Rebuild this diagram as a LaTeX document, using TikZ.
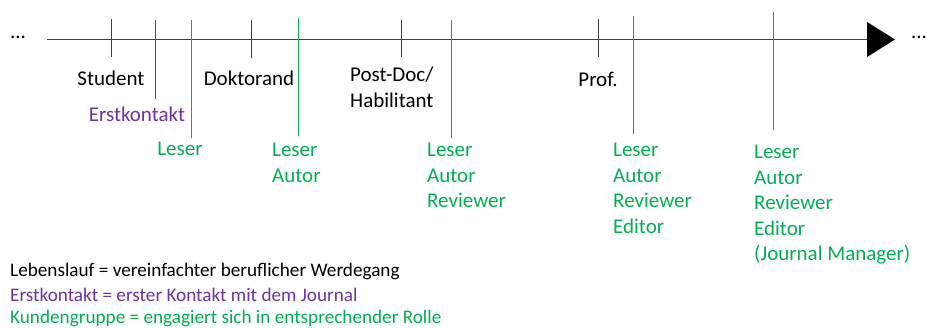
\documentclass[tikz,border=0pt]{standalone}
\usepackage{fontspec}
\setmainfont{Carlito}
\definecolor{grn}{HTML}{00B050}
\definecolor{prp}{HTML}{7030A0}
\definecolor{axis}{HTML}{404040}
\begin{document}
\begin{tikzpicture}[x=1pt,y=-1pt,
  lbl/.style={inner sep=0pt,font=\fontsize{21}{25.5}\selectfont,align=left},
  foot/.style={inner sep=0pt,anchor=west,font=\fontsize{19.2}{23}\selectfont},
  tick/.style={draw=axis,line width=1.2pt},
  role/.style={draw=grn,line width=1.4pt},
  first/.style={draw=prp,line width=1.4pt}]
\useasboundingbox (0,0) rectangle (927,327);
% axis
\coordinate (a0) at (47,39.5);
\coordinate (a1) at (868,39.5);
\draw[draw=axis,line width=1.2pt] (a0) -- (a1);
\fill[black] (867,22) -- (895,39.5) -- (867,57) -- cycle;
\node[lbl,anchor=center] (dl) at (18,37) {...};
\node[lbl,anchor=center] (dr) at (919,37) {...};
% ticks
\coordinate (t1a) at (111.5,19); \coordinate (t1b) at (111.5,57);
\coordinate (t2a) at (251.5,20); \coordinate (t2b) at (251.5,58);
\coordinate (t3a) at (401.5,20); \coordinate (t3b) at (401.5,57);
\coordinate (t4a) at (598.5,19); \coordinate (t4b) at (598.5,57);
\draw[tick] (t1a) -- (t1b);
\draw[tick] (t2a) -- (t2b);
\draw[tick] (t3a) -- (t3b);
\draw[tick] (t4a) -- (t4b);
% purple
\coordinate (p1a) at (155.5,20); \coordinate (p1b) at (155.5,99);
\draw[first] (p1a) -- (p1b);
% green
\coordinate (g1a) at (191.5,20); \coordinate (g1b) at (191.5,138);
\coordinate (g2a) at (298.5,18); \coordinate (g2b) at (298.5,136);
\coordinate (g3a) at (451.5,20); \coordinate (g3b) at (451.5,138);
\coordinate (g4a) at (633.5,16); \coordinate (g4b) at (633.5,134);
\coordinate (g5a) at (773.5,12); \coordinate (g5b) at (773.5,130);
\draw[role] (g1a) -- (g1b);
\draw[role] (g2a) -- (g2b);
\draw[role] (g3a) -- (g3b);
\draw[role] (g4a) -- (g4b);
\draw[role] (g5a) -- (g5b);
% career labels
\node[lbl,anchor=center] (student) at (111,78) {Student};
\node[lbl,anchor=center] (doktorand) at (249,78) {Doktorand};
\node[lbl,anchor=north west] (postdoc) at (350,67) {Post-Doc/\\Habilitant};
\node[lbl,anchor=center] (prof) at (598,79) {Prof.};
% first contact
\node[lbl,anchor=center,text=prp] (erst) at (137,114) {Erstkontakt};
% roles
\node[lbl,anchor=center,text=grn] (r1) at (180,149) {Leser};
\node[lbl,anchor=north west,text=grn] (r2) at (272,143) {Leser\\Autor};
\node[lbl,anchor=north west,text=grn] (r3) at (427,143) {Leser\\Autor\\Reviewer};
\node[lbl,anchor=north west,text=grn] (r4) at (613,143) {Leser\\Autor\\Reviewer\\Editor};
\node[lbl,anchor=north west,text=grn] (r5) at (754,145) {Leser\\Autor\\Reviewer\\Editor\\(Journal Manager)};
% legend
\node[foot] (f1) at (10,271) {Lebenslauf = vereinfachter beruflicher Werdegang};
\node[foot,text=prp] (f2) at (10,295) {Erstkontakt = erster Kontakt mit dem Journal};
\node[foot,text=grn] (f3) at (10,318) {Kundengruppe = engagiert sich in entsprechender Rolle};
\end{tikzpicture}
\end{document}
